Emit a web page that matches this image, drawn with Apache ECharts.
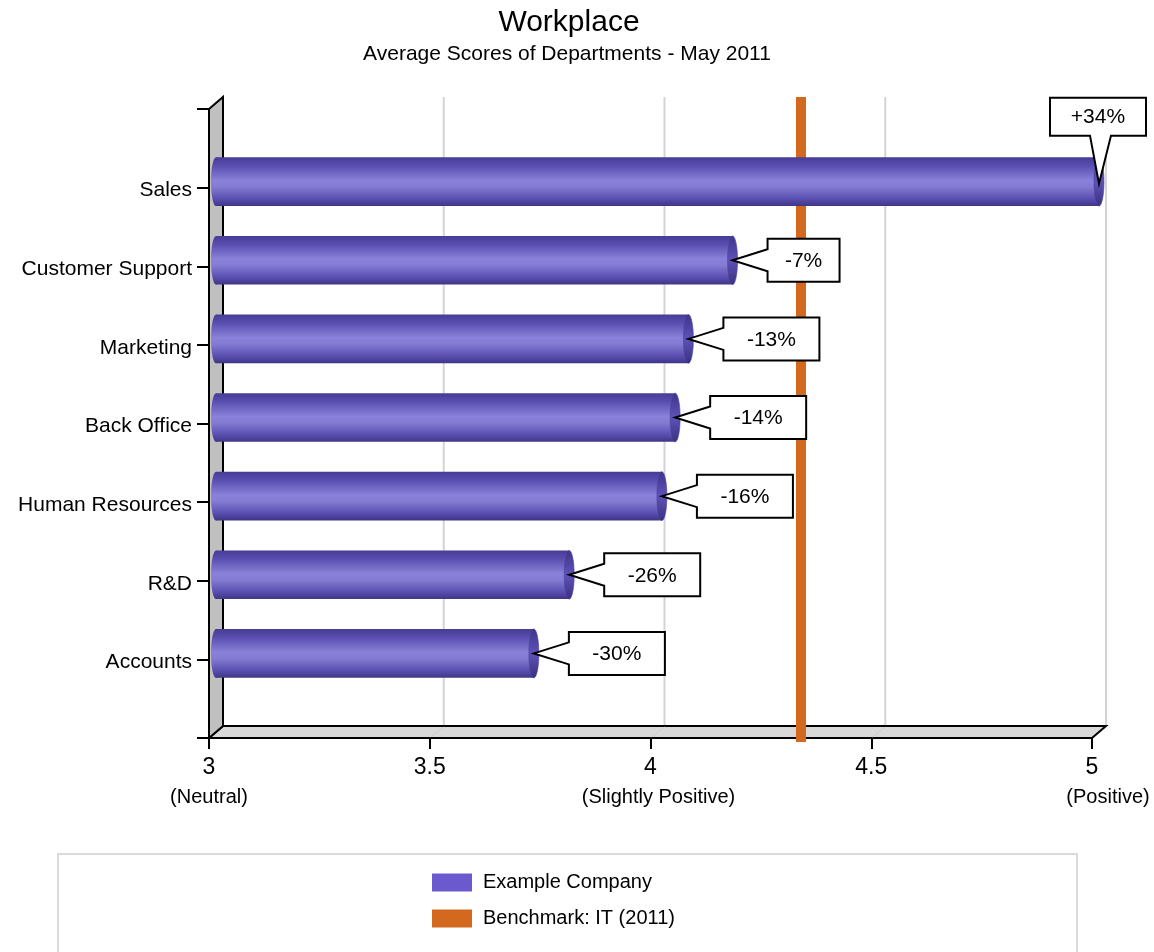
<!DOCTYPE html>
<html>
<head>
<meta charset="utf-8">
<script src="https://cdn.jsdelivr.net/npm/echarts@6/dist/echarts.min.js"></script>
<style>
  html, body { margin: 0; padding: 0; background: #ffffff; }
  #chart { width: 1154px; height: 952px; }
</style>
</head>
<body>
<div id="chart"></div>
<script>
// Department scores, top row first
const departments = ['Sales', 'Customer Support', 'Marketing', 'Back Office', 'Human Resources', 'R&D', 'Accounts'];
const scores = [5.00, 4.17, 4.07, 4.04, 4.01, 3.80, 3.72];
const changeLabels = ['+34%', '-7%', '-13%', '-14%', '-16%', '-26%', '-30%'];
const benchmarkScore = 4.325;
const scoreTicks = [3, 3.5, 4, 4.5, 5];
const scoreNotes = { 3: '(Neutral)', 4: '(Slightly Positive)', 5: '(Positive)' };

const FONT = '"Liberation Sans", Arial, Helvetica, sans-serif';
const SCORE_MIN = scoreTicks[0];
const SCORE_MAX = scoreTicks[scoreTicks.length - 1];
const ROWS = departments.length;
// depth of the pseudo-3D box (back plane offset in pixels)
const DX = 14, DY = -12;

const rowPos = i => ROWS - i;
const barData = scores.map((s, i) => [s, rowPos(i), i]);

const chart = echarts.init(document.getElementById('chart'));

function frameItem(params, api) {
  const front0 = api.coord([SCORE_MIN, 0]);
  const frontTop = api.coord([SCORE_MIN, ROWS + 1]);
  const front1 = api.coord([SCORE_MAX, 0]);
  const children = [];
  // back-wall grid lines
  scoreTicks.slice(1).forEach(t => {
    const x = api.coord([t, 0])[0];
    children.push({
      type: 'line',
      shape: { x1: x + DX, y1: frontTop[1] + DY, x2: x + DX, y2: front0[1] + DY },
      style: { stroke: '#d4d4d4', lineWidth: 2 }
    });
  });
  // floor
  children.push({
    type: 'polygon',
    shape: { points: [[front0[0], front0[1]], [front0[0] + DX, front0[1] + DY], [front1[0] + DX, front1[1] + DY], [front1[0], front1[1]]] },
    style: { fill: '#d9d9d9', stroke: '#000', lineWidth: 2, lineJoin: 'miter' }
  });
  // faint grid marks across the floor
  scoreTicks.slice(1, -1).forEach(t => {
    const x = api.coord([t, 0])[0];
    children.push({
      type: 'line',
      shape: { x1: x + DX, y1: front0[1] + DY + 1, x2: x + 1, y2: front0[1] - 1 },
      style: { stroke: '#cdcdcd', lineWidth: 1 }
    });
  });
  // left wall
  children.push({
    type: 'polygon',
    shape: { points: [[frontTop[0], frontTop[1]], [frontTop[0] + DX, frontTop[1] + DY], [front0[0] + DX, front0[1] + DY], [front0[0], front0[1]]] },
    style: { fill: '#c0c0c0', stroke: '#000', lineWidth: 2, lineJoin: 'miter' }
  });
  return { type: 'group', children };
}

function benchmarkItem(params, api) {
  const x = api.coord([api.value(0), 0])[0] + DX / 2;
  const top = api.coord([SCORE_MIN, ROWS + 1])[1] + DY;
  const bottom = api.coord([SCORE_MIN, 0])[1] + 4;
  return {
    type: 'rect',
    shape: { x: x - 5, y: top, width: 10, height: bottom - top },
    style: { fill: '#d2691e' }
  };
}

function bodyGradient() {
  return new echarts.graphic.LinearGradient(0, 0, 0, 1, [
    { offset: 0, color: '#463b94' },
    { offset: 0.18, color: '#5a4fb0' },
    { offset: 0.48, color: '#8a82da' },
    { offset: 0.6, color: '#847cd4' },
    { offset: 0.85, color: '#5a4fb0' },
    { offset: 1, color: '#3f3586' }
  ]);
}

function capGradient() {
  return new echarts.graphic.LinearGradient(0, 0, 0, 1, [
    { offset: 0, color: '#3e3488' },
    { offset: 0.5, color: '#5e52b8' },
    { offset: 1, color: '#3a307e' }
  ]);
}

function barItem(params, api) {
  const v = api.value(0), pos = api.value(1);
  const p0 = api.coord([SCORE_MIN, pos]);
  const p1 = api.coord([v, pos]);
  const h = api.size([0, 1])[1] * 0.62;
  const cy = p0[1] + DY / 2;
  const x0 = p0[0] + DX / 2;
  const x1 = p1[0] + DX / 2;
  const rx = 5;
  return {
    type: 'group',
    children: [
      { type: 'ellipse', shape: { cx: x0, cy, rx, ry: h / 2 }, style: { fill: bodyGradient() } },
      { type: 'rect', shape: { x: x0, y: cy - h / 2, width: x1 - x0, height: h }, style: { fill: bodyGradient() } },
      { type: 'ellipse', shape: { cx: x1, cy, rx, ry: h / 2 }, style: { fill: capGradient(), stroke: '#4a3f9e', lineWidth: 0.6 } }
    ]
  };
}

function calloutItem(params, api) {
  const v = api.value(0), pos = api.value(1), idx = api.value(2);
  const text = changeLabels[idx];
  const p = api.coord([v, pos]);
  const tx = p[0] + DX / 2;
  const ty = p[1] + DY / 2;
  const w = 24 * text.length;
  const chartW = api.getWidth();
  let points, cx, cy;
  if (tx + 35 + w > chartW) {
    // no room on the right: box above the bar end
    const H = 38;
    const bb = ty - 46, bt = bb - H;
    const bx = tx - 1 - w / 2;
    points = [[bx, bt], [bx + w, bt], [bx + w, bb], [tx + 12, bb], [tx, ty + 2], [tx - 9, bb], [bx, bb]];
    cx = bx + w / 2; cy = bt + H / 2;
  } else {
    const H = 43;
    const bx = tx + 35, bt = ty - H / 2;
    points = [[bx, bt], [bx + w, bt], [bx + w, bt + H], [bx, bt + H], [bx, ty + 11], [tx, ty], [bx, ty - 11]];
    cx = bx + w / 2; cy = ty;
  }
  return {
    type: 'group',
    children: [
      { type: 'polygon', shape: { points }, style: { fill: '#fff', stroke: '#000', lineWidth: 2, lineJoin: 'miter' } },
      { type: 'text', style: { text, x: cx, y: cy + 1, align: 'center', verticalAlign: 'middle', fontSize: 21, fontFamily: FONT, fill: '#000' } }
    ]
  };
}

const option = {
  animation: false,
  backgroundColor: '#ffffff',
  textStyle: { fontFamily: FONT },
  graphic: [
    { type: 'rect', z: -10, shape: { x: 58, y: 854, width: 1019, height: 130 }, style: { fill: '#fff', stroke: '#d9d9d9', lineWidth: 2 } },
    { type: 'text', x: 569, y: 23, style: { text: 'Workplace', align: 'center', verticalAlign: 'middle', fontSize: 30, fontFamily: FONT, fill: '#000' } },
    { type: 'text', x: 567, y: 54, style: { text: 'Average Scores of Departments - May 2011', align: 'center', verticalAlign: 'middle', fontSize: 21, fontFamily: FONT, fill: '#000' } }
  ],
  legend: {
    orient: 'vertical',
    left: 432,
    top: 871,
    padding: 0,
    itemWidth: 40,
    itemHeight: 18,
    itemGap: 13,
    selectedMode: false,
    textStyle: { fontSize: 20, color: '#000', fontFamily: FONT, lineHeight: 23, padding: [0, 0, 0, 6] },
    data: [
      { name: 'Example Company', icon: 'rect' },
      { name: 'Benchmark: IT (2011)', icon: 'rect' }
    ]
  },
  grid: { left: 209, right: 62, top: 109, bottom: 214, containLabel: false },
  xAxis: {
    type: 'value',
    min: SCORE_MIN,
    max: SCORE_MAX,
    interval: 0.5,
    splitLine: { show: false },
    axisLine: { show: true, lineStyle: { color: '#000', width: 2 } },
    axisTick: { show: true, length: 11, lineStyle: { color: '#000', width: 2 } },
    axisLabel: {
      margin: 15,
      showMinLabel: true,
      showMaxLabel: true,
      formatter: v => {
        const note = scoreNotes[v];
        if (!note) return '{v|' + v + '}';
        const style = v === 5 ? 's3' : (v === 4 ? 's2' : 's');
        return '{v|' + v + '}\n{' + style + '|' + note + '}';
      },
      rich: {
        v: { fontSize: 23, lineHeight: 29, color: '#000', fontFamily: FONT },
        s: { fontSize: 20, lineHeight: 31, color: '#000', fontFamily: FONT },
        s2: { fontSize: 20, lineHeight: 31, color: '#000', fontFamily: FONT, padding: [0, 0, 0, 16] },
        s3: { fontSize: 20, lineHeight: 31, color: '#000', fontFamily: FONT, padding: [0, 0, 0, 32] }
      }
    }
  },
  yAxis: {
    type: 'value',
    min: 0,
    max: ROWS + 1,
    interval: 1,
    splitLine: { show: false },
    axisLine: { show: true, lineStyle: { color: '#000', width: 2 } },
    axisTick: { show: true, length: 12, lineStyle: { color: '#000', width: 2 } },
    axisLabel: {
      margin: 17,
      showMinLabel: true,
      showMaxLabel: true,
      formatter: v => (v >= 1 && v <= ROWS) ? '{c|' + departments[ROWS - v] + '}' : '',
      rich: {
        c: { fontSize: 21, color: '#000', fontFamily: FONT, lineHeight: 24, padding: [6, 0, 0, 0] }
      }
    }
  },
  series: [
    {
      name: 'frame', type: 'custom', silent: true, z: 1,
      renderItem: frameItem,
      data: [[SCORE_MIN, 0]]
    },
    {
      name: 'Benchmark: IT (2011)', type: 'custom', silent: true, z: 2,
      itemStyle: { color: '#d2691e' },
      renderItem: benchmarkItem,
      encode: { x: 0, y: 1 },
      data: [[benchmarkScore, 0]]
    },
    {
      name: 'Example Company', type: 'custom', silent: true, z: 3,
      itemStyle: { color: '#6a5acd' },
      renderItem: barItem,
      encode: { x: 0, y: 1 },
      data: barData
    },
    {
      name: 'callouts', type: 'custom', silent: true, z: 4,
      renderItem: calloutItem,
      encode: { x: 0, y: 1 },
      data: barData
    }
  ]
};

chart.setOption(option);
</script>
</body>
</html>
